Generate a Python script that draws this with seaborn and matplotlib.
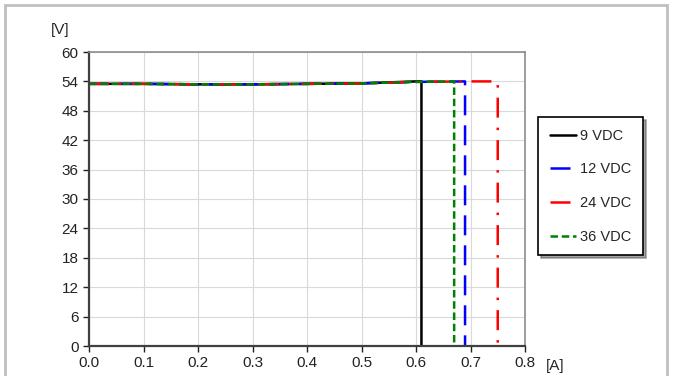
import matplotlib
matplotlib.use("Agg")
import matplotlib.pyplot as plt
import seaborn as sns
import pandas as pd
from matplotlib.patches import Rectangle

sns.set_style("white")
plt.rcParams['font.family'] = ['Liberation Sans', 'DejaVu Sans']

series_names = ["9 VDC", "12 VDC", "24 VDC", "36 VDC"]
x_9 = [0.0, 0.1, 0.2, 0.3, 0.4, 0.5, 0.6, 0.61, 0.61]
y_9 = [53.5, 53.5, 53.4, 53.4, 53.5, 53.6, 54.0, 54.0, 0.0]
x_12 = [0.0, 0.1, 0.2, 0.3, 0.4, 0.5, 0.6, 0.69, 0.69]
y_12 = [53.5, 53.5, 53.4, 53.4, 53.5, 53.6, 53.9, 54.0, 0.0]
x_24 = [0.0, 0.1, 0.2, 0.3, 0.4, 0.5, 0.6, 0.7, 0.75, 0.75]
y_24 = [53.5, 53.5, 53.4, 53.4, 53.5, 53.6, 53.9, 54.0, 54.0, 0.0]
x_36 = [0.0, 0.1, 0.2, 0.3, 0.4, 0.5, 0.6, 0.67, 0.67]
y_36 = [53.5, 53.5, 53.4, 53.4, 53.5, 53.6, 53.9, 54.0, 0.0]

x_ticks = [0.0, 0.1, 0.2, 0.3, 0.4, 0.5, 0.6, 0.7, 0.8]
y_ticks = [0, 6, 12, 18, 24, 30, 36, 42, 48, 54, 60]

colors = ["#000000", "#0000ff", "#ff0000", "#008000"]
styles = [(None, None), (8, 4), (8, 4, 1, 4), (3, 1.5)]

fig = plt.figure(figsize=(6.75, 3.76), dpi=100)
ax = fig.add_axes([89/675, 1-346/376, (525-89)/675, (346-52)/376])

data = [(x_9, y_9), (x_12, y_12), (x_24, y_24), (x_36, y_36)]
for name, (xs, ys), c, st in zip(series_names, data, colors, styles):
    df = pd.DataFrame({"x": xs, "y": ys})
    sns.lineplot(data=df, x="x", y="y", sort=False, estimator=None, ax=ax,
                 color=c, linewidth=1.8, label=name)
    line = ax.get_lines()[-1]
    if st[0] is not None:
        line.set_dashes(st)

ax.set_xlim(0, 0.8)
ax.set_ylim(0, 60)
ax.set_xticks(x_ticks)
ax.set_xticklabels([f"{v:.1f}" for v in x_ticks])
ax.set_yticks(y_ticks)
ax.set_yticklabels([str(v) for v in y_ticks])
ax.set_xlabel("")
ax.set_ylabel("")
ax.grid(True, color="#d9d9d9", linewidth=0.8)
ax.tick_params(axis="both", labelsize=11, colors="#222222", length=4,
               direction="out", bottom=True, left=True, width=1)
for s in ["left", "bottom"]:
    ax.spines[s].set_color("#404040")
    ax.spines[s].set_linewidth(1.6)
for s in ["top", "right"]:
    ax.spines[s].set_color("#8c8c8c")
    ax.spines[s].set_linewidth(1.2)

ax.text(-0.065, 1.05, "[V]", transform=ax.transAxes, fontsize=11,
        ha="center", va="bottom")
ax.text(555/675, 1-366/376, "[A]", transform=fig.transFigure, fontsize=11,
        ha="center", va="center")

leg = ax.legend(loc="upper left", bbox_to_anchor=(538/675, 1-117/376),
                bbox_transform=fig.transFigure, frameon=True, fancybox=False,
                shadow=True, fontsize=10.5, handlelength=1.8, handletextpad=0.3,
                labelspacing=1.35, borderpad=0.8, borderaxespad=0)
leg.get_frame().set_edgecolor("black")
leg.get_frame().set_linewidth(1.2)

fig.patches.append(Rectangle((5/675, -0.1), (667-5)/675, 1.1-5/376,
                             transform=fig.transFigure, fill=False,
                             edgecolor="#bfbfbf", linewidth=2))

fig.savefig("out.png", dpi=100)
